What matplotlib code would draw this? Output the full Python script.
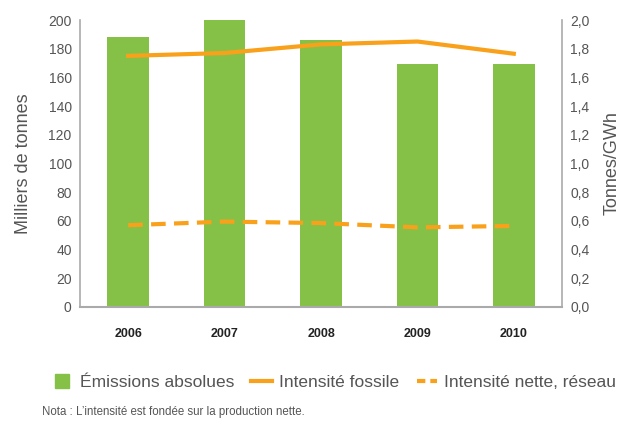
import matplotlib.pyplot as plt
from matplotlib.ticker import FuncFormatter
from matplotlib.lines import Line2D

years = ["2006", "2007", "2008", "2009", "2010"]
emissions = [188, 200, 186, 169, 169.5]          # milliers de tonnes
fossil_intensity = [1.75, 1.77, 1.83, 1.85, 1.765]  # tonnes/GWh
net_intensity = [0.57, 0.595, 0.585, 0.555, 0.565]  # tonnes/GWh

green = "#86c147"
orange = "#f9a11b"
gray_text = "#555555"

plt.rcParams["font.family"] = ["Liberation Sans", "DejaVu Sans"]

fig = plt.figure(figsize=(6.26, 4.21), dpi=100)
ax = fig.add_axes([80 / 626, 1 - 307 / 421, 482 / 626, 287 / 421])
x = list(range(len(years)))

ax.bar(x, emissions, width=0.43, color=green, zorder=2)
ax.set_xlim(-0.5, len(years) - 0.5)
ax.set_ylim(0, 200)
ax.set_yticks(range(0, 201, 20))
ax.set_xticks(x)
ax.set_xticklabels(years, fontsize=9, fontweight="bold", color="#222222")
ax.tick_params(axis="x", length=0, pad=15)
ax.tick_params(axis="y", length=0, labelsize=10, labelcolor=gray_text, pad=6)
ax.set_ylabel("Milliers de tonnes", fontsize=13, color=gray_text, labelpad=12)

for s in ["top", "right"]:
    ax.spines[s].set_visible(False)
ax.spines["left"].set_color("#aaaaaa")
ax.spines["bottom"].set_color("#aaaaaa")
ax.spines["left"].set_linewidth(1.2)
ax.spines["bottom"].set_linewidth(1.5)

# intensités sur l'axe de droite
ax2 = ax.twinx()
ax2.plot(x, fossil_intensity, color=orange, lw=3, zorder=3)
ax2.plot(x, net_intensity, color=orange, lw=3, dashes=(3.5, 2), zorder=3)
ax2.set_ylim(0, 2.0)
ax2.set_yticks([i / 10 for i in range(0, 21, 2)])
ax2.yaxis.set_major_formatter(FuncFormatter(lambda v, p: f"{v:.1f}".replace(".", ",")))
ax2.tick_params(axis="y", length=0, labelsize=10, labelcolor=gray_text, pad=6)
ax2.set_ylabel("Tonnes/GWh", fontsize=13, color=gray_text, labelpad=10)
for s in ["top", "left", "bottom"]:
    ax2.spines[s].set_visible(False)
ax2.spines["right"].set_color("#aaaaaa")
ax2.spines["right"].set_linewidth(1.2)

handles = [
    Line2D([0], [0], ls="", marker="s", markersize=10, color=green),
    Line2D([0], [0], color=orange, lw=3),
    Line2D([0], [0], color=orange, lw=3, dashes=(2, 1.2)),
]
labels = ["Émissions absolues", "Intensité fossile", "Intensité nette, réseau"]
leg = fig.legend(handles, labels, loc="center", bbox_to_anchor=(334 / 626, 1 - 382 / 421),
                 ncol=3, frameon=False, fontsize=12.5, handlelength=1.2,
                 handletextpad=0.4, columnspacing=1.0, borderaxespad=0, borderpad=0)
for t in leg.get_texts():
    t.set_color(gray_text)

fig.text(42 / 626, 1 - 412 / 421, "Nota : L\u2019intensité est fondée sur la production nette.",
         fontsize=8.3, color=gray_text, va="center")

fig.savefig("out.png", dpi=100)
